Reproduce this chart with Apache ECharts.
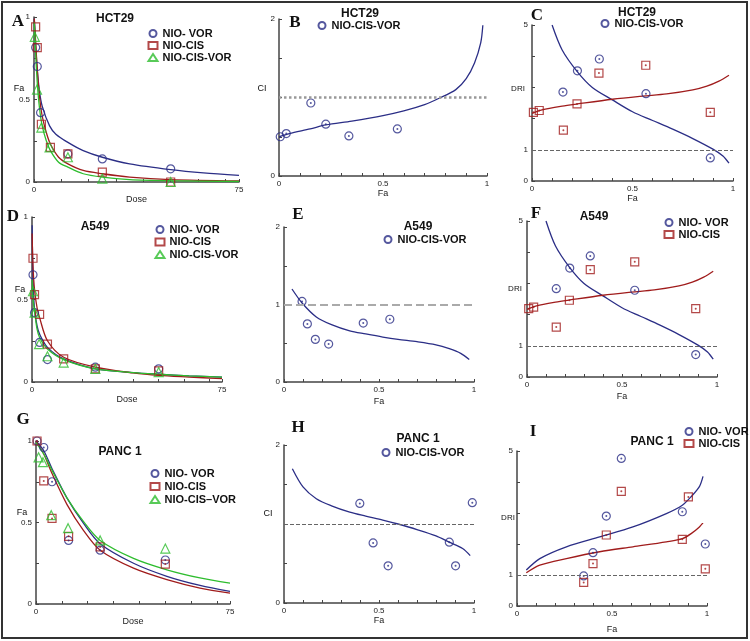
<!DOCTYPE html>
<html>
<head>
<meta charset="utf-8">
<script src="https://cdn.jsdelivr.net/npm/echarts@6/dist/echarts.min.js"></script>
<style>
html, body { margin: 0; padding: 0; background: #fff; }
#chart { width: 750px; height: 641px; }
</style>
</head>
<body>
<div id="chart"></div>
<script>
// tick values / labels
const doseTicks = [0, 10, 20, 30, 40, 50, 60, 70, 75];
const doseLabels = [0, 75];
const faTicks = [0, 0.1, 0.2, 0.3, 0.4, 0.5, 0.6, 0.7, 0.8, 0.9, 1];
const faLabels = [0, 0.5, 1];
const fyTicks = [0, 0.25, 0.5, 0.75, 1];
const fyLabels = [0, 0.5, 1];
const ciTicks = [0, 0.5, 1, 1.5, 2];
const ciLabels = [0, 2];
const ciLabelsE = [0, 1, 2];
const driTicks = [0, 1, 2, 3, 4, 5];
const driLabels = [0, 1, 5];
const refLevel = 1;

// A - HCT29 dose effect  [dose, Fa]
const hctVorPts = [[0.6, 0.815], [1.2, 0.70], [2.4, 0.42], [12.4, 0.17], [25, 0.14], [50, 0.08]];
const hctCisPts = [[0.6, 0.94], [1.2, 0.815], [2.7, 0.35], [6, 0.21], [12.4, 0.17], [25, 0.06], [50, 0.0]];
const hctComboPts = [[0.3, 0.88], [1.1, 0.56], [2.7, 0.33], [5.7, 0.21], [12.4, 0.15], [25, 0.02], [50, 0.0]];
const hctVorCurve = [[0.1, 0.99], [0.6, 0.83], [1.2, 0.68], [2, 0.55], [3, 0.46], [5.7, 0.34], [8, 0.29], [12.4, 0.24], [18, 0.19], [25, 0.15], [35, 0.11], [50, 0.075], [62, 0.055], [75, 0.04]];
const hctCisCurve = [[0.1, 0.99], [0.6, 0.85], [1.2, 0.68], [2, 0.52], [3, 0.40], [4.5, 0.30], [6, 0.23], [9, 0.15], [12.4, 0.11], [18, 0.07], [25, 0.05], [35, 0.03], [50, 0.015], [75, 0.007]];
const hctComboCurve = [[0.1, 0.97], [0.6, 0.78], [1.2, 0.60], [2, 0.45], [3, 0.34], [4.5, 0.25], [6, 0.19], [9, 0.12], [12.4, 0.09], [18, 0.05], [25, 0.03], [35, 0.015], [50, 0.008], [75, 0.003]];

// B - HCT29 CI  [Fa, CI]
const hctCiPts = [[0.006, 0.50], [0.035, 0.54], [0.153, 0.93], [0.225, 0.66], [0.336, 0.51], [0.569, 0.60]];
const hctCiCurve = [[0, 0.50], [0.05, 0.54], [0.15, 0.60], [0.225, 0.65], [0.35, 0.70], [0.5, 0.77], [0.6, 0.83], [0.7, 0.91], [0.77, 0.99], [0.85, 1.1], [0.9, 1.24], [0.94, 1.44], [0.97, 1.7], [0.98, 1.92]];

// C / F - DRI  [Fa, DRI]
const hctVorDri = [[0.154, 2.85], [0.226, 3.53], [0.335, 3.91], [0.567, 2.80], [0.887, 0.74]];
const hctCisDri = [[0.007, 2.20], [0.036, 2.26], [0.156, 1.63], [0.224, 2.47], [0.333, 3.46], [0.566, 3.71], [0.887, 2.20]];
const vorDriCurve = [[0.10, 5.0], [0.15, 4.2], [0.226, 3.5], [0.3, 3.0], [0.4, 2.6], [0.5, 2.22], [0.6, 1.94], [0.7, 1.66], [0.8, 1.36], [0.9, 1.02], [0.95, 0.8], [0.98, 0.57]];
const cisDriCurve = [[0, 2.17], [0.05, 2.28], [0.15, 2.40], [0.226, 2.47], [0.4, 2.62], [0.55, 2.72], [0.67, 2.79], [0.8, 2.92], [0.87, 3.04], [0.93, 3.2], [0.98, 3.39]];
const a549VorDri = [[0.154, 2.83], [0.225, 3.49], [0.333, 3.88], [0.567, 2.78], [0.888, 0.72]];
const a549CisDri = [[0.009, 2.19], [0.035, 2.24], [0.154, 1.60], [0.223, 2.46], [0.333, 3.44], [0.567, 3.69], [0.888, 2.19]];

// D - A549 dose effect
const a549VorPts = [[0.4, 0.65], [1.0, 0.42], [3.0, 0.24], [6.1, 0.136], [25, 0.09], [50, 0.08]];
const a549CisPts = [[0.4, 0.75], [1.0, 0.53], [3.0, 0.41], [6.1, 0.23], [12.5, 0.14], [25, 0.08], [50, 0.067]];
const a549ComboPts = [[0.4, 0.55], [1.0, 0.42], [2.8, 0.23], [6.1, 0.156], [12.5, 0.118], [25, 0.08], [50, 0.06]];
const a549VorCurve = [[0.05, 0.95], [0.4, 0.62], [1, 0.44], [2, 0.34], [3, 0.29], [6.1, 0.21], [12.5, 0.14], [25, 0.08], [40, 0.057], [50, 0.047], [62, 0.037], [75, 0.03]];
const a549CisCurve = [[0.05, 0.9], [0.4, 0.7], [1, 0.56], [2, 0.45], [3, 0.39], [6.1, 0.25], [12.5, 0.15], [25, 0.09], [40, 0.055], [50, 0.04], [62, 0.03], [75, 0.02]];
const a549ComboCurve = [[0.05, 0.62], [0.4, 0.5], [1, 0.43], [2, 0.32], [3, 0.27], [6.1, 0.2], [12.5, 0.136], [25, 0.08], [40, 0.057], [50, 0.047], [62, 0.037], [75, 0.03]];

// E - A549 CI
const a549CiPts = [[0.095, 1.04], [0.123, 0.75], [0.165, 0.55], [0.235, 0.49], [0.417, 0.76], [0.557, 0.81]];
const a549CiCurve = [[0.042, 1.20], [0.095, 1.02], [0.17, 0.84], [0.25, 0.74], [0.346, 0.66], [0.43, 0.62], [0.52, 0.58], [0.6, 0.55], [0.7, 0.52], [0.8, 0.48], [0.87, 0.43], [0.93, 0.37], [0.975, 0.29]];

// G - PANC 1 dose effect
const pancVorPts = [[0.4, 1.0], [3, 0.96], [6.2, 0.75], [12.6, 0.39], [24.8, 0.33], [50, 0.27]];
const pancCisPts = [[0.4, 1.0], [3, 0.755], [6.2, 0.525], [12.6, 0.415], [24.8, 0.35], [50, 0.245]];
const pancComboPts = [[1, 0.90], [2.7, 0.87], [5.9, 0.545], [12.4, 0.465], [24.8, 0.39], [50, 0.34]];
const pancVorCurve = [[0, 1.0], [3, 0.94], [6.2, 0.83], [12, 0.65], [18.4, 0.495], [24.8, 0.37], [37.7, 0.25], [50.6, 0.17], [63.4, 0.114], [75, 0.077]];
const pancCisCurve = [[0, 1.0], [3, 0.92], [6.2, 0.80], [12, 0.61], [18.4, 0.45], [24.8, 0.33], [37.7, 0.22], [50.6, 0.15], [63.4, 0.098], [75, 0.067]];
const pancComboCurve = [[0, 0.99], [3, 0.92], [6.2, 0.82], [12, 0.65], [18.4, 0.505], [24.8, 0.39], [37.7, 0.28], [50.6, 0.21], [63.4, 0.16], [75, 0.128]];

// H - PANC 1 CI
const pancCiPts = [[0.399, 1.26], [0.469, 0.76], [0.548, 0.47], [0.870, 0.77], [0.903, 0.47], [0.991, 1.27]];
const pancCiCurve = [[0.044, 1.70], [0.10, 1.47], [0.17, 1.32], [0.25, 1.23], [0.346, 1.15], [0.43, 1.10], [0.52, 1.05], [0.6, 1.0], [0.7, 0.93], [0.8, 0.85], [0.87, 0.77], [0.94, 0.69], [0.98, 0.60]];

// I - PANC 1 DRI
const pancVorDri = [[0.351, 0.97], [0.40, 1.72], [0.47, 2.90], [0.549, 4.76], [0.870, 3.04], [0.991, 2.00]];
const pancCisDri = [[0.351, 0.76], [0.40, 1.37], [0.47, 2.29], [0.549, 3.70], [0.870, 2.15], [0.902, 3.52], [0.991, 1.20]];
const pancVorDriCurve = [[0.049, 1.16], [0.12, 1.53], [0.26, 1.91], [0.435, 2.23], [0.61, 2.55], [0.786, 2.98], [0.87, 3.25], [0.92, 3.55], [0.96, 3.85], [0.979, 4.18]];
const pancCisDriCurve = [[0.049, 1.07], [0.12, 1.32], [0.26, 1.53], [0.435, 1.75], [0.61, 1.91], [0.786, 2.07], [0.87, 2.17], [0.92, 2.35], [0.96, 2.55], [0.979, 2.68]];

const BLUE = '#2b2e86', RED = '#a01c1c', GREEN = '#2ebd2e';
const FONT = 'Liberation Sans, Arial, sans-serif';

const grids = [
  { left: 34, top: 17, width: 205, height: 165 },   // A
  { left: 279, top: 19, width: 208, height: 157 },  // B
  { left: 532, top: 25, width: 201, height: 156 },  // C
  { left: 32, top: 217, width: 190, height: 165 },  // D
  { left: 284, top: 227, width: 190, height: 155 }, // E
  { left: 527, top: 221, width: 190, height: 156 }, // F
  { left: 36, top: 441, width: 194, height: 163 },  // G
  { left: 284, top: 445, width: 190, height: 158 }, // H
  { left: 517, top: 451, width: 190, height: 155 }  // I
];

const axisLine = { show: true, onZero: false, lineStyle: { color: '#444', width: 1.5 } };

function xAx(i, dose, gap) {
  return {
    type: 'value', gridIndex: i, min: 0, max: dose ? 75 : 1,
    name: dose ? 'Dose' : 'Fa', nameLocation: 'middle', nameGap: gap,
    nameTextStyle: { fontSize: 9, color: '#222', fontFamily: FONT },
    axisLine: axisLine,
    axisTick: { show: true, inside: true, length: 3, customValues: dose ? doseTicks : faTicks, lineStyle: { color: '#444' } },
    axisLabel: { customValues: dose ? doseLabels : faLabels, fontSize: 8, color: '#222', margin: 4, fontFamily: FONT },
    splitLine: { show: false }
  };
}

function yAx(i, max, ticks, labels) {
  return {
    type: 'value', gridIndex: i, min: 0, max: max,
    axisLine: axisLine,
    axisTick: { show: true, inside: true, length: 3, customValues: ticks, lineStyle: { color: '#444' } },
    axisLabel: { customValues: labels, fontSize: 8, color: '#222', margin: 4, fontFamily: FONT },
    splitLine: { show: false }
  };
}

const xAxes = [
  xAx(0, true, 4.5), xAx(1, false, 12.5), xAx(2, false, 13.5),
  xAx(3, true, 3.5), xAx(4, false, 15.5), xAx(5, false, 15.5),
  xAx(6, true, 4.5), xAx(7, false, 13.5), xAx(8, false, 19.5)
];
const yAxes = [
  yAx(0, 1, fyTicks, fyLabels), yAx(1, 2, ciTicks, ciLabels), yAx(2, 5, driTicks, driLabels),
  yAx(3, 1, fyTicks, fyLabels), yAx(4, 2, ciTicks, ciLabelsE), yAx(5, 5, driTicks, driLabels),
  yAx(6, 1, fyTicks, fyLabels), yAx(7, 2, ciTicks, ciLabels), yAx(8, 5, driTicks, driLabels)
];

const SYM = {
  circle: { symbol: 'circle', size: 8 },
  square: { symbol: 'rect', size: 8 },
  tri: { symbol: 'triangle', size: 9 }
};

function pts(name, i, data, kind, color) {
  return {
    name: name, type: 'scatter', xAxisIndex: i, yAxisIndex: i, data: data,
    symbol: SYM[kind].symbol, symbolSize: SYM[kind].size,
    itemStyle: { color: 'rgba(255,255,255,0)', borderColor: color, borderWidth: 1.2 },
    z: 3
  };
}
function dots(i, data, color) {
  return {
    type: 'scatter', xAxisIndex: i, yAxisIndex: i, data: data, symbolSize: 2,
    itemStyle: { color: color }, silent: true, z: 4
  };
}
function curve(i, data, color) {
  return {
    type: 'line', xAxisIndex: i, yAxisIndex: i, data: data, smooth: 0.3,
    showSymbol: false, lineStyle: { color: color, width: 1.3 }, silent: true, z: 2
  };
}
function refLine(style) {
  return { silent: true, symbol: 'none', label: { show: false }, lineStyle: style, data: [{ yAxis: refLevel }] };
}
const thinDash = { type: 'dashed', color: '#666', width: 1 };

const series = [
  // A
  curve(0, hctVorCurve, BLUE), curve(0, hctCisCurve, RED), curve(0, hctComboCurve, GREEN),
  pts('A|NIO- VOR', 0, hctVorPts, 'circle', BLUE),
  pts('A|NIO-CIS', 0, hctCisPts, 'square', RED),
  pts('A|NIO-CIS-VOR', 0, hctComboPts, 'tri', GREEN),
  // B
  curve(1, hctCiCurve, BLUE),
  Object.assign(pts('B|NIO-CIS-VOR', 1, hctCiPts, 'circle', BLUE),
    { markLine: refLine({ type: 'dotted', color: '#999', width: 2.5 }) }),
  dots(1, hctCiPts, BLUE),
  // C
  curve(2, vorDriCurve, BLUE), curve(2, cisDriCurve, RED),
  Object.assign(pts('C|NIO-CIS-VOR', 2, hctVorDri, 'circle', BLUE), { markLine: refLine(thinDash) }),
  pts('C|sq', 2, hctCisDri, 'square', RED),
  dots(2, hctVorDri, BLUE), dots(2, hctCisDri, RED),
  // D
  curve(3, a549VorCurve, BLUE), curve(3, a549CisCurve, RED), curve(3, a549ComboCurve, GREEN),
  pts('D|NIO- VOR', 3, a549VorPts, 'circle', BLUE),
  pts('D|NIO-CIS', 3, a549CisPts, 'square', RED),
  pts('D|NIO-CIS-VOR', 3, a549ComboPts, 'tri', GREEN),
  // E
  curve(4, a549CiCurve, BLUE),
  Object.assign(pts('E|NIO-CIS-VOR', 4, a549CiPts, 'circle', BLUE),
    { markLine: refLine({ type: 'dashed', color: '#aaa', width: 2 }) }),
  dots(4, a549CiPts, BLUE),
  // F
  curve(5, vorDriCurve, BLUE), curve(5, cisDriCurve, RED),
  Object.assign(pts('F|NIO- VOR', 5, a549VorDri, 'circle', BLUE), { markLine: refLine(thinDash) }),
  pts('F|NIO-CIS', 5, a549CisDri, 'square', RED),
  dots(5, a549VorDri, BLUE), dots(5, a549CisDri, RED),
  // G
  curve(6, pancVorCurve, BLUE), curve(6, pancCisCurve, RED), curve(6, pancComboCurve, GREEN),
  pts('G|NIO- VOR', 6, pancVorPts, 'circle', BLUE),
  pts('G|NIO-CIS', 6, pancCisPts, 'square', RED),
  pts('G|NIO-CIS\u2013VOR', 6, pancComboPts, 'tri', GREEN),
  dots(6, pancVorPts, BLUE), dots(6, pancCisPts, RED),
  // H
  curve(7, pancCiCurve, BLUE),
  Object.assign(pts('H|NIO-CIS-VOR', 7, pancCiPts, 'circle', BLUE), { markLine: refLine(thinDash) }),
  dots(7, pancCiPts, BLUE),
  // I
  curve(8, pancVorDriCurve, BLUE), curve(8, pancCisDriCurve, RED),
  Object.assign(pts('I|NIO- VOR', 8, pancVorDri, 'circle', BLUE), { markLine: refLine(thinDash) }),
  pts('I|NIO-CIS', 8, pancCisDri, 'square', RED),
  dots(8, pancVorDri, BLUE), dots(8, pancCisDri, RED)
];

function legend(names, left, top, gap) {
  return {
    data: names, left: left, top: top, orient: 'vertical', selectedMode: false, padding: 0,
    itemWidth: 9, itemHeight: 7, itemGap: gap || 1,
    formatter: n => n.split('|')[1],
    textStyle: { fontSize: 11, fontWeight: 'bold', color: '#111', lineHeight: 10, fontFamily: FONT }
  };
}

const legends = [
  legend(['A|NIO- VOR', 'A|NIO-CIS', 'A|NIO-CIS-VOR'], 147.5, 28),
  legend(['B|NIO-CIS-VOR'], 317.5, 20),
  legend(['C|NIO-CIS-VOR'], 600.5, 18),
  legend(['D|NIO- VOR', 'D|NIO-CIS', 'D|NIO-CIS-VOR'], 154.5, 224, 1.5),
  legend(['E|NIO-CIS-VOR'], 383.5, 234),
  legend(['F|NIO- VOR', 'F|NIO-CIS'], 663.5, 217),
  legend(['G|NIO- VOR', 'G|NIO-CIS', 'G|NIO-CIS\u2013VOR'], 149.5, 468, 2),
  legend(['H|NIO-CIS-VOR'], 381.5, 447),
  legend(['I|NIO- VOR', 'I|NIO-CIS'], 683.5, 426)
];

function txt(text, x, y, size, opts) {
  return {
    type: 'text', x: x, y: y, silent: true,
    style: Object.assign({ text: text, fontSize: size, fontFamily: FONT, fill: '#111', align: 'center', verticalAlign: 'middle' }, opts || {})
  };
}
const bold = { fontWeight: 'bold' };
const letter = { fontWeight: 'bold', fontFamily: 'Liberation Serif, Times New Roman, serif', fill: '#111' };

const graphics = [
  { type: 'rect', shape: { x: 2, y: 2, width: 745, height: 636 }, style: { fill: 'none', stroke: '#333', lineWidth: 2 }, silent: true },
  // panel letters
  txt('A', 18, 22, 17, letter), txt('B', 295, 23, 17, letter), txt('C', 537, 16, 17, letter),
  txt('D', 13, 217, 17, letter), txt('E', 298, 215, 17, letter), txt('F', 536, 214, 17, letter),
  txt('G', 23, 420, 17, letter), txt('H', 298, 428, 17, letter), txt('I', 533, 432, 17, letter),
  // cell line titles
  txt('HCT29', 115, 19, 12, bold), txt('HCT29', 360, 14, 12, bold), txt('HCT29', 637, 13, 12, bold),
  txt('A549', 95, 227, 12, bold), txt('A549', 418, 227, 12, bold), txt('A549', 594, 217, 12, bold),
  txt('PANC 1', 120, 452, 12, bold), txt('PANC 1', 418, 439, 12, bold), txt('PANC 1', 652, 442, 12, bold),
  // y axis names
  txt('Fa', 19, 89, 9), txt('CI', 262, 89, 9), txt('DRI', 518, 89, 8),
  txt('Fa', 20, 290, 9), txt('DRI', 515, 289, 8),
  txt('Fa', 22, 513, 9), txt('CI', 268, 514, 9), txt('DRI', 508, 518, 8)
];

const chart = echarts.init(document.getElementById('chart'));
chart.setOption({
  backgroundColor: '#fff',
  animation: false,
  grid: grids,
  xAxis: xAxes,
  yAxis: yAxes,
  legend: legends,
  series: series,
  graphic: graphics
});
</script>
</body>
</html>
